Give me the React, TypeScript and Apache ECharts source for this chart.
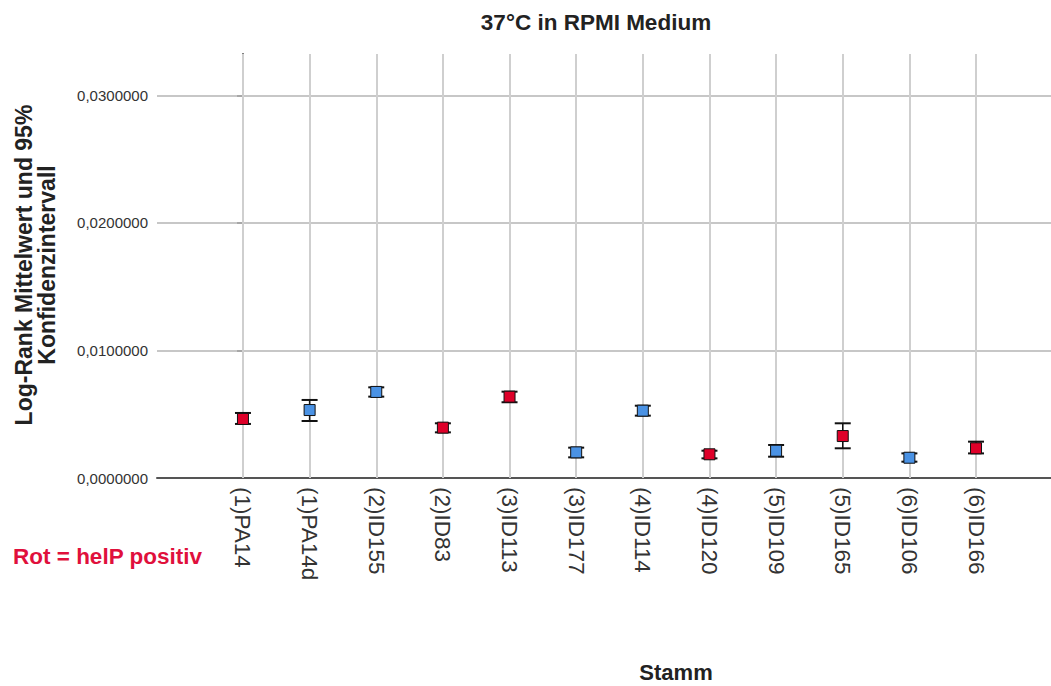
import React, { useEffect, useRef } from "react";
import * as echarts from "echarts";

const categories = ["(1)PA14", "(1)PA14d", "(2)ID155", "(2)ID83", "(3)ID113", "(3)ID177", "(4)ID114", "(4)ID120", "(5)ID109", "(5)ID165", "(6)ID106", "(6)ID166"];
const means = [0.00463, 0.00533, 0.00675, 0.00395, 0.00638, 0.00201, 0.00528, 0.00186, 0.00214, 0.00329, 0.00159, 0.00233];
const lower = [0.00424, 0.00447, 0.00638, 0.00358, 0.00594, 0.00162, 0.00489, 0.00154, 0.00167, 0.00233, 0.00128, 0.00193];
const upper = [0.0051, 0.00612, 0.00711, 0.00429, 0.00677, 0.00238, 0.00567, 0.00214, 0.00259, 0.00429, 0.00193, 0.00285];
const helPPositive = [true, false, false, true, true, false, false, true, false, true, false, true];
const yTicks = [0, 0.01, 0.02, 0.03];

const FONT = "'Liberation Sans', Arial, sans-serif";
const RED = "#DE0029";
const BLUE = "#4A92E4";

export default function App() {
  const ref = useRef<HTMLDivElement>(null);
  useEffect(() => {
    if (!ref.current) return;
    const chart = echarts.init(ref.current, null, { renderer: "svg" });
    const data = categories.map((_, i) => [i, means[i], lower[i], upper[i], helPPositive[i] ? 1 : 0]);
    chart.setOption({
      animation: false,
      backgroundColor: "#ffffff",
      grid: { left: 157, right: 0, top: 54, bottom: 208, containLabel: false },
      xAxis: {
        type: "value",
        min: -1.29,
        max: 12.125,
        splitLine: { show: false },
        axisTick: { show: false },
        axisLine: { show: true, lineStyle: { color: "#555555", width: 2 } },
        axisLabel: {
          customValues: categories.map((_, i) => i),
          formatter: (v: number) => categories[Math.round(v)] ?? "",
          rotate: -90,
          margin: 9,
          fontSize: 22.5,
          fontFamily: FONT,
          color: "#333333",
        },
      },
      yAxis: {
        type: "value",
        min: 0,
        max: 0.03325,
        splitLine: { show: false },
        axisLine: { show: true, lineStyle: { color: "#555555", width: 2 } },
        axisTick: { show: true, customValues: yTicks, length: 6, lineStyle: { color: "#555555", width: 1.5 } },
        axisLabel: {
          customValues: yTicks,
          formatter: (v: number) => v.toFixed(7).replace(".", ","),
          margin: 9,
          fontSize: 15,
          fontFamily: FONT,
          color: "#333333",
        },
      },
      graphic: [
        {
          type: "text",
          x: 596,
          y: 22,
          style: { text: "37°C in RPMI Medium", fontSize: 22.5, fontWeight: "bold", fontFamily: FONT, fill: "#222222", align: "center", verticalAlign: "middle" },
        },
        {
          type: "text",
          x: 676,
          y: 672,
          style: { text: "Stamm", fontSize: 22, fontWeight: "bold", fontFamily: FONT, fill: "#222222", align: "center", verticalAlign: "middle" },
        },
        {
          type: "text",
          x: 13,
          y: 556,
          style: { text: "Rot = helP positiv", fontSize: 22.5, fontWeight: "bold", fontFamily: FONT, fill: "#E0103C", align: "left", verticalAlign: "middle" },
        },
        {
          type: "text",
          x: 35,
          y: 265,
          rotation: Math.PI / 2,
          style: {
            text: "Log-Rank Mittelwert und 95%\nKonfidenzintervall",
            fontSize: 23,
            lineHeight: 23,
            fontWeight: "bold",
            fontFamily: FONT,
            fill: "#222222",
            align: "center",
            verticalAlign: "middle",
          },
        },
      ],
      series: [
        {
          type: "custom",
          data,
          z: 5,
          renderItem: (params: any, api: any) => {
            const x = api.value(0);
            const m = api.coord([x, api.value(1)]);
            const lo = api.coord([x, api.value(2)]);
            const hi = api.coord([x, api.value(3)]);
            const color = api.value(4) === 1 ? RED : BLUE;
            const cap = 8;
            const half = 5.5;
            return {
              type: "group",
              children: [
                { type: "line", shape: { x1: m[0], y1: hi[1], x2: m[0], y2: lo[1] }, style: { stroke: "#111", lineWidth: 1.5 } },
                { type: "line", shape: { x1: m[0] - cap, y1: hi[1], x2: m[0] + cap, y2: hi[1] }, style: { stroke: "#111", lineWidth: 2 } },
                { type: "line", shape: { x1: m[0] - cap, y1: lo[1], x2: m[0] + cap, y2: lo[1] }, style: { stroke: "#111", lineWidth: 2 } },
                { type: "rect", shape: { x: m[0] - half, y: m[1] - half, width: half * 2, height: half * 2 }, style: { fill: color, stroke: "#111", lineWidth: 1 } },
              ],
            };
          },
          markLine: {
            silent: true,
            symbol: "none",
            label: { show: false },
            animation: false,
            data: [
              ...yTicks.filter((v) => v > 0).map((v) => ({ yAxis: v, lineStyle: { color: "#B4B4B4", width: 1.5, type: "solid" } })),
              ...categories.map((_, i) => ({ xAxis: i, lineStyle: { color: "#CFCFCF", width: 2, type: "solid" } })),
            ],
          },
        },
      ],
    });
    return () => chart.dispose();
  }, []);
  return <div ref={ref} style={{ position: "absolute", left: 0, top: 0, width: 1051, height: 686 }} />;
}
